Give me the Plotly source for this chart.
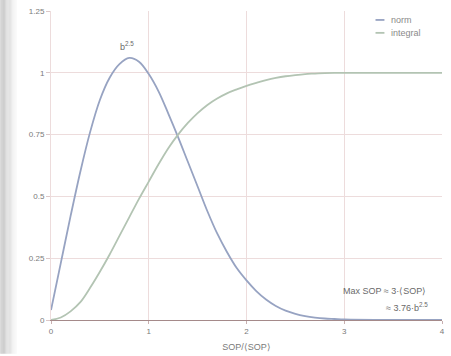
import plotly.graph_objects as go

x_vals = [0.0, 0.1, 0.2, 0.3, 0.4, 0.5, 0.6, 0.7, 0.8, 0.9, 1.0, 1.1, 1.2, 1.3, 1.4,
          1.5, 1.6, 1.7, 1.8, 1.9, 2.0, 2.1, 2.2, 2.3, 2.4, 2.5, 2.6, 2.7, 2.8, 2.9,
          3.0, 3.5, 4.0]
norm_vals = [0.04, 0.23, 0.42, 0.60, 0.76, 0.89, 0.98, 1.035, 1.06, 1.045, 0.995, 0.925,
             0.835, 0.74, 0.64, 0.54, 0.44, 0.35, 0.275, 0.21, 0.16, 0.117, 0.083, 0.057,
             0.038, 0.025, 0.016, 0.010, 0.006, 0.004, 0.002, 0.0, 0.0]
integral_vals = [0.0, 0.01, 0.035, 0.072, 0.13, 0.195, 0.265, 0.34, 0.415, 0.49, 0.56,
                 0.63, 0.695, 0.75, 0.797, 0.837, 0.87, 0.896, 0.917, 0.933, 0.947, 0.959,
                 0.970, 0.979, 0.986, 0.991, 0.995, 0.997, 0.999, 1.0, 1.0, 1.0, 1.0]

x_ticks = [0, 1, 2, 3, 4]
x_tick_text = ["0", "1", "2", "3", "4"]
y_ticks = [0, 0.25, 0.5, 0.75, 1, 1.25]
y_tick_text = ["0", "0.25", "0.5", "0.75", "1", "1.25"]
legend_names = ["norm", "integral"]
legend_colors = ["#97a3c2", "#b3c4b3"]

W, H = 451, 356
L, R, T, B = 51, 6, 11, 34
pw = W - L - R
ph = H - T - B


def px_x(p):
    return (p - L) / pw


def px_y(p):
    return (H - B - p) / ph


fig = go.Figure()
for name, ys, col in zip(legend_names, [norm_vals, integral_vals], legend_colors):
    fig.add_trace(go.Scatter(x=x_vals, y=ys, mode="lines", name=name,
                             line=dict(color=col, width=1.8, shape="spline")))

shapes = []
# soft shadow at the left edge of the photo
for i in range(14):
    g = 196 + i * 4.2
    shapes.append(dict(type="rect", xref="paper", yref="paper",
                       x0=px_x(i * 1.2), x1=px_x((i + 1) * 1.2),
                       y0=px_y(H), y1=px_y(0),
                       fillcolor=f"rgb({int(g)},{int(g)},{int(g)})", line=dict(width=0),
                       layer="below"))

annotations = [
    dict(x=0.78, y=1.11, xref="x", yref="y", text="b<sup>2.5</sup>", showarrow=False,
         font=dict(size=9, color="#6a6a6a")),
    dict(x=px_x(431), y=px_y(293), xref="paper", yref="paper", text="Max SOP ≈ 3·⟨SOP⟩",
         showarrow=False, xanchor="right", yanchor="middle", font=dict(size=9, color="#6a6a6a")),
    dict(x=px_x(433), y=px_y(309), xref="paper", yref="paper", text="≈ 3.76·b<sup>2.5</sup>",
         showarrow=False, xanchor="right", yanchor="middle", font=dict(size=9, color="#6a6a6a")),
]

# hand-drawn legend (short line samples as in the reference)
for i, (name, col) in enumerate(zip(legend_names, legend_colors)):
    yy = 20 + i * 13
    shapes.append(dict(type="line", xref="paper", yref="paper",
                       x0=px_x(378), x1=px_x(387), y0=px_y(yy), y1=px_y(yy),
                       line=dict(color=col, width=1.8)))
    annotations.append(dict(x=px_x(392), y=px_y(yy), xref="paper", yref="paper", text=name,
                            showarrow=False, xanchor="left", yanchor="middle",
                            font=dict(size=9, color="#8a8a8a")))

fig.update_layout(
    width=W, height=H,
    margin=dict(l=L, r=R, t=T, b=B),
    paper_bgcolor="white", plot_bgcolor="white",
    font=dict(family="Liberation Sans, Arial, sans-serif", size=8, color="#7a7a7a"),
    shapes=shapes,
    showlegend=False,
    xaxis=dict(range=[0, 4], tickvals=x_ticks, ticktext=x_tick_text,
               showgrid=True, gridcolor="#eddcdc", gridwidth=1,
               zeroline=False, showline=True, linecolor="#a58a8a", linewidth=1.2,
               ticks="outside", ticklen=3, tickcolor="#c8b0b0",
               title=dict(text="SOP/⟨SOP⟩", font=dict(size=9, color="#7a7a7a"), standoff=8)),
    yaxis=dict(range=[0, 1.25], tickvals=y_ticks, ticktext=y_tick_text,
               showgrid=True, gridcolor="#eddcdc", gridwidth=1,
               zeroline=False, showline=True, linecolor="#eddcdc", linewidth=1,
               ticks="outside", ticklen=4, tickcolor="#dcc8c8"),
    annotations=annotations,
)

fig.write_html("out.html")
